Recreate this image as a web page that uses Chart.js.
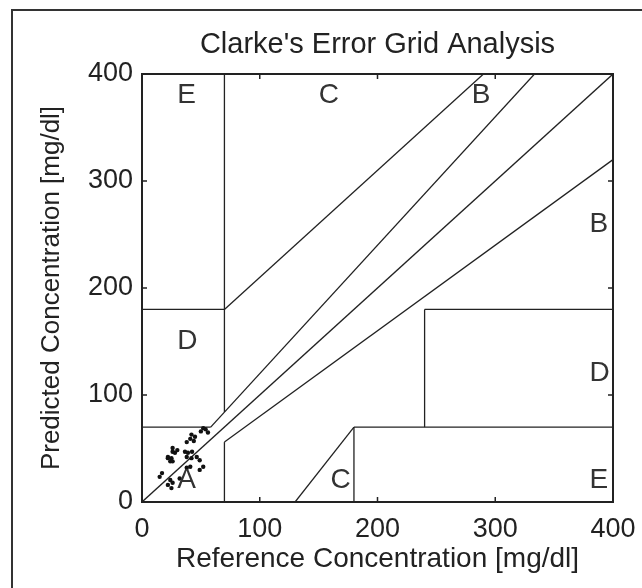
<!DOCTYPE html>
<html>
<head>
<meta charset="utf-8">
<script src="https://cdn.jsdelivr.net/npm/chart.js@4/dist/chart.umd.min.js"></script>
<style>
  html, body { margin: 0; padding: 0; background: #fff; }
</style>
</head>
<body>
<canvas id="chart" width="642" height="588"></canvas>
<script>
// Tick values on both axes
const xTicks = [0, 100, 200, 300, 400];
const yTicks = [0, 100, 200, 300, 400];

const refValues  = [50, 52, 54, 56, 42, 45, 41, 44, 38, 26, 30, 28, 36.5, 39, 42.5, 22, 25, 24, 26, 38, 42, 46.5, 49, 52, 38, 41, 17, 15, 24, 26, 22, 25, 32, 49, 26, 22];
const predValues = [66, 69, 68, 65, 63, 61, 59, 57, 56, 50.5, 48.5, 46, 47, 46, 47, 42, 41, 38, 38, 42, 41, 42, 39, 33, 32, 33, 27, 23.5, 20.5, 18, 16, 13, 22, 30, 47, 41];

// Zone boundaries as [x1, y1, x2, y2]
const zoneLines = [
  [0, 0, 400, 400],
  [0, 70, 175 / 3, 70],
  [175 / 3, 70, 400 / 1.2, 400],
  [70, 84, 70, 400],
  [0, 180, 70, 180],
  [70, 180, 290, 400],
  [70, 0, 70, 56],
  [70, 56, 400, 320],
  [180, 0, 180, 70],
  [180, 70, 400, 70],
  [240, 70, 240, 180],
  [240, 180, 400, 180],
  [130, 0, 180, 70]
];

// Zone letters and where they sit (data units, left edge / vertical middle)
const zoneNames = ['A', 'D', 'E', 'C', 'C', 'E', 'D', 'B', 'B'];
const zoneX = [30, 30, 30, 150, 160, 380, 380, 380, 280];
const zoneY = [20, 150, 380, 380, 20, 20, 120, 260, 380];

const chartTitle = "Clarke's Error Grid Analysis";

const INK = '#222';
const FAMILY = '"Liberation Sans", Arial, sans-serif';
Chart.defaults.font.family = FAMILY;
Chart.defaults.color = INK;

const lineSets = zoneLines.map((l) => ({
  type: 'scatter',
  data: [{ x: l[0], y: l[1] }, { x: l[2], y: l[3] }],
  showLine: true,
  borderColor: INK,
  borderWidth: 1.3,
  pointRadius: 0,
  order: 2
}));

// Outer figure frame, title over the plot, axes box, inward ticks, zone letters
const decorations = {
  id: 'decorations',
  beforeDraw(chart) {
    const ctx = chart.ctx;
    ctx.save();
    ctx.strokeStyle = '#333';
    ctx.lineWidth = 2;
    ctx.beginPath();
    ctx.moveTo(12, chart.height + 2);
    ctx.lineTo(12, 10);
    ctx.lineTo(chart.width + 2, 10);
    ctx.stroke();
    ctx.restore();
  },
  afterDatasetsDraw(chart) {
    const { ctx, chartArea: a, scales: { x, y } } = chart;
    ctx.save();
    ctx.strokeStyle = INK;
    ctx.lineWidth = 2;
    ctx.strokeRect(a.left, a.top, a.right - a.left, a.bottom - a.top);
    ctx.lineWidth = 1.5;
    ctx.beginPath();
    xTicks.forEach((v) => {
      const px = x.getPixelForValue(v);
      ctx.moveTo(px, a.bottom); ctx.lineTo(px, a.bottom - 5);
      ctx.moveTo(px, a.top); ctx.lineTo(px, a.top + 5);
    });
    yTicks.forEach((v) => {
      const py = y.getPixelForValue(v);
      ctx.moveTo(a.left, py); ctx.lineTo(a.left + 5, py);
      ctx.moveTo(a.right, py); ctx.lineTo(a.right - 5, py);
    });
    ctx.stroke();

    ctx.fillStyle = '#333';
    ctx.font = '28px ' + FAMILY;
    ctx.textAlign = 'left';
    ctx.textBaseline = 'middle';
    zoneNames.forEach((n, i) => {
      ctx.fillText(n, x.getPixelForValue(zoneX[i]), y.getPixelForValue(zoneY[i]));
    });

    // title centred over the axes, like the original figure
    ctx.fillStyle = INK;
    ctx.font = '29px ' + FAMILY;
    ctx.textAlign = 'center';
    ctx.fillText(chartTitle, (a.left + a.right) / 2, a.top - 29);
    ctx.restore();
  }
};

new Chart(document.getElementById('chart'), {
  data: {
    datasets: [
      {
        type: 'scatter',
        data: refValues.map((v, i) => ({ x: v, y: predValues[i] })),
        backgroundColor: '#111',
        borderWidth: 0,
        pointRadius: 2.2,
        order: 1
      },
      ...lineSets
    ]
  },
  options: {
    responsive: false,
    devicePixelRatio: 1,
    animation: false,
    layout: { padding: { left: 0, right: 29, top: 74, bottom: 0 } },
    plugins: {
      legend: { display: false },
      tooltip: { enabled: false },
      title: { display: false }
    },
    scales: {
      x: {
        type: 'linear',
        min: 0, max: 400,
        afterBuildTicks: (s) => { s.ticks = xTicks.map((v) => ({ value: v })); },
        afterFit: (s) => { s.height = 86; s.paddingLeft = 0; s.paddingRight = 0; },
        ticks: { font: { size: 27 }, color: INK, padding: 11 },
        grid: { display: false, drawTicks: false },
        border: { display: false },
        title: {
          display: true,
          text: 'Reference Concentration [mg/dl]',
          color: INK,
          font: { size: 28 },
          padding: { top: 0, bottom: 12 }
        }
      },
      y: {
        type: 'linear',
        min: 0, max: 400,
        afterBuildTicks: (s) => { s.ticks = yTicks.map((v) => ({ value: v })); },
        afterFit: (s) => { s.width = 142; s.paddingTop = 0; s.paddingBottom = 0; },
        ticks: { font: { size: 27 }, color: INK, padding: 9 },
        grid: { display: false, drawTicks: false },
        border: { display: false },
        title: {
          display: true,
          text: 'Predicted Concentration [mg/dl]',
          color: INK,
          font: { size: 26 },
          padding: { top: 36, bottom: 0 }
        }
      }
    }
  },
  plugins: [decorations]
});
</script>
</body>
</html>
